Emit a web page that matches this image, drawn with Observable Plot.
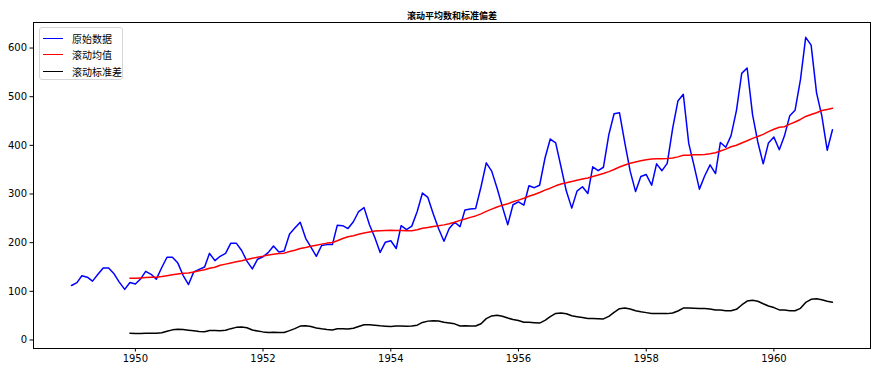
<!DOCTYPE html>
<html>
<head>
<meta charset="utf-8">
<script src="https://cdn.jsdelivr.net/npm/d3@7"></script>
<script src="https://cdn.jsdelivr.net/npm/@observablehq/plot@0.6"></script>
<style>
  html, body { margin: 0; padding: 0; background: #fff; }
  #wrap { position: relative; width: 877px; height: 372px; font-family: "DejaVu Sans", sans-serif; }
  #legend { position: absolute; left: 39px; top: 27px; width: 84px; height: 53px; box-sizing: border-box;
    border: 1px solid #d6d6d6; border-radius: 3px; background: rgba(255,255,255,0.8);
    font-family: "Noto Sans CJK SC", sans-serif; font-size: 10px; color: #000; }
  .item { position: absolute; left: 3px; height: 14px; display: flex; align-items: center; }
  .sw { width: 20px; height: 0; border-top: 1.5px solid; margin-right: 9px; }
</style>
</head>
<body>
<div id="wrap">
  <div id="chart"></div>
  <div id="legend"></div>
</div>
<script>
const startYear = 1949;
const passengers = [
  112,118,132,129,121,135,148,148,136,119,104,118,
  115,126,141,135,125,149,170,170,158,133,114,140,
  145,150,178,163,172,178,199,199,184,162,146,166,
  171,180,193,181,183,218,230,242,209,191,172,194,
  196,196,236,235,229,243,264,272,237,211,180,201,
  204,188,235,227,234,264,302,293,259,229,203,229,
  242,233,267,269,270,315,364,347,312,274,237,278,
  284,277,317,313,318,374,413,405,355,306,271,306,
  315,301,356,348,355,422,465,467,404,347,305,336,
  340,318,362,348,363,435,491,505,404,359,310,337,
  360,342,406,396,420,472,548,559,463,407,362,405,
  417,391,419,461,472,535,622,606,508,461,390,432
];
const seriesNames = ["原始数据", "滚动均值", "滚动标准差"];
const seriesColors = ["blue", "red", "black"];
const yTicks = [0, 100, 200, 300, 400, 500, 600];
const xTickYears = [1950, 1952, 1954, 1956, 1958, 1960];
const title = "滚动平均数和标准偏差";
const windowSize = 12;

const data = passengers.map((v, i) => ({
  date: new Date(Date.UTC(startYear + Math.floor(i / 12), i % 12, 1)),
  value: v
}));

const t0 = +data[0].date, t1 = +data[data.length - 1].date;
const pad = (t1 - t0) * 0.05;

const chart = Plot.plot({
  width: 877,
  height: 372,
  marginLeft: 33,
  marginRight: 7,
  marginTop: 22,
  marginBottom: 24,
  style: { fontFamily: "DejaVu Sans, sans-serif", fontSize: "10px", color: "#000", background: "#fff" },
  x: { type: "utc", domain: [new Date(t0 - pad), new Date(t1 + pad)], ticks: xTickYears.map(y => new Date(Date.UTC(y, 0, 1))),
       tickFormat: d3.utcFormat("%Y"), tickSize: 3.5, tickPadding: 3, label: null },
  y: { domain: [-17.5, 652.5], ticks: yTicks, tickSize: 3.5, tickPadding: 3, label: null },
  marks: [
    Plot.lineY(data, { x: "date", y: "value", stroke: seriesColors[0], strokeWidth: 1.5 }),
    Plot.lineY(data, Plot.windowY({ k: windowSize, anchor: "end", reduce: "mean", strict: true },
      { x: "date", y: "value", stroke: seriesColors[1], strokeWidth: 1.5 })),
    Plot.lineY(data, Plot.windowY({ k: windowSize, anchor: "end", reduce: "deviation", strict: true },
      { x: "date", y: "value", stroke: seriesColors[2], strokeWidth: 1.5 })),
    Plot.frame({ stroke: "#000", strokeWidth: 1 }),
    Plot.text([title], { frameAnchor: "top", dy: -10, fontSize: 9, fontWeight: "bold",
      fontFamily: "Noto Sans CJK SC, sans-serif", fill: "#000" })
  ]
});
document.getElementById("chart").appendChild(chart);

const legend = document.getElementById("legend");
seriesNames.forEach((name, i) => {
  const item = document.createElement("div");
  item.className = "item";
  item.style.top = (3 + i * 16.5) + "px";
  item.innerHTML = `<span class="sw" style="border-color:${seriesColors[i]}"></span><span>${name}</span>`;
  legend.appendChild(item);
});
</script>
</body>
</html>
